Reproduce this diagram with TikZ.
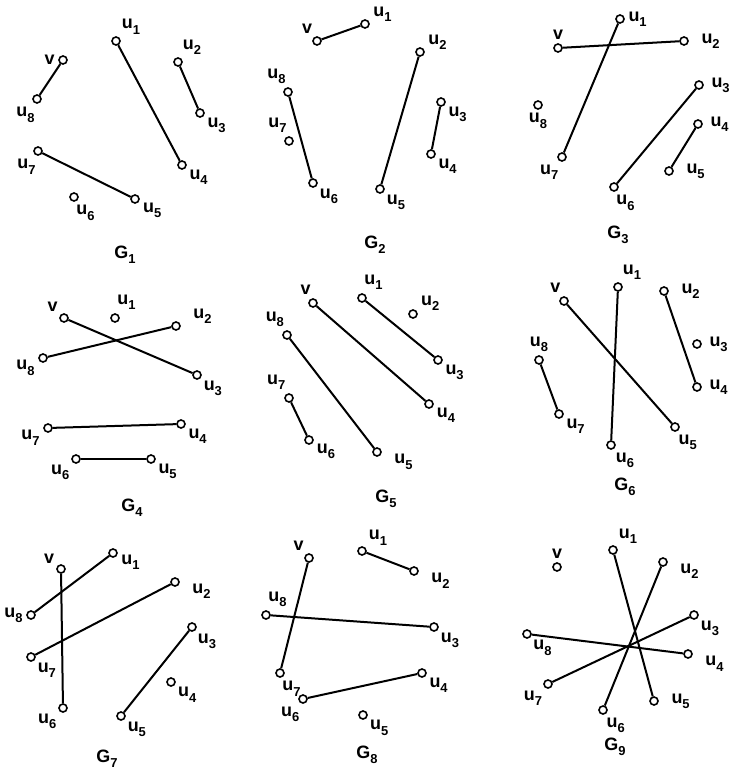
\documentclass[tikz,border=0pt]{standalone}
\usepackage{fontspec}
\setmainfont{Liberation Sans}
\usetikzlibrary{positioning}
\newcommand\sub[1]{\raisebox{-0.55ex}{\fontsize{13}{13}\selectfont #1}}
\newcommand\ul[1]{u\sub{#1}}
\newcommand\fu[1]{\hspace{9bp}u\sub{#1}}
\newcommand\su[1]{\hspace{4bp}u\sub{#1}}

\begin{document}
\begin{tikzpicture}[x=1bp,y=-1bp,
   vtx/.style={circle,draw=black,fill=white,line width=1.6bp,minimum size=8bp,inner sep=0pt},
   lbl/.style={font=\fontsize{18}{20}\selectfont\bfseries,label distance=2.5bp,inner sep=1bp},
   edge/.style={line width=2bp,draw=black},
   gcap/.style={font=\fontsize{18}{20}\selectfont\bfseries,inner sep=0pt}]
  \useasboundingbox (0,0) rectangle (733,771);

  % G1
  \foreach \n/\x/\y/\a/\t in {v/63/60/180/v,u1/116/41/50/\ul1,u2/178/62/60/\ul2,
      u3/200/113/-30/\ul3,u4/182/165/-30/\ul4,u5/135/199/-20/\ul5,
      u6/74/197/-80/\ul6,u7/38/151/-100/\ul7,u8/37/99/-100/\ul8}
    \node[vtx,label={[lbl]\a:\t}] (g1\n) at (\x,\y) {};
  \draw[edge] (g1v) -- (g1u8); \draw[edge] (g1u1) -- (g1u4);
  \draw[edge] (g1u2) -- (g1u3); \draw[edge] (g1u7) -- (g1u5);
  \node[gcap] (c1) at (125,255) {G\sub1};

  % G2
  \foreach \n/\x/\y/\a/\t in {v/317/41/120/v,u1/365/24/10/\ul1,u2/420/52/10/\ul2,
      u3/441/102/-30/\ul3,u4/431/154/-30/\ul4,u5/380/189/-40/\ul5,
      u6/313/183/-40/\ul6,u7/289/141/100/\ul7,u8/288/92/100/\ul8}
    \node[vtx,label={[lbl]\a:\t}] (g2\n) at (\x,\y) {};
  \draw[edge] (g2v) -- (g2u1); \draw[edge] (g2u8) -- (g2u6);
  \draw[edge] (g2u2) -- (g2u5); \draw[edge] (g2u3) -- (g2u4);
  \node[gcap] (c2) at (375,245) {G\sub2};

  % G3
  \foreach \n/\x/\y/\a/\t in {v/558/48/90/v,u1/620/19/0/\ul1,u2/684/41/0/\fu2,
      u3/699/85/0/\su3,u4/698/124/0/\su4,u5/669/171/0/\fu5,
      u6/614/187/-80/\ul6,u7/562/157/-110/\ul7,u8/538/105/-90/\ul8}
    \node[vtx,label={[lbl]\a:\t}] (g3\n) at (\x,\y) {};
  \draw[edge] (g3v) -- (g3u2); \draw[edge] (g3u1) -- (g3u7);
  \draw[edge] (g3u3) -- (g3u6); \draw[edge] (g3u4) -- (g3u5);
  \node[gcap] (c3) at (618,235) {G\sub3};

  % G4
  \foreach \n/\x/\y/\a/\t in {v/64/318/135/v,u1/115/318/80/\ul1,u2/176/326/10/\fu2,
      u3/197/375/-40/\ul3,u4/181/424/-30/\ul4,u5/151/459/-30/\ul5,
      u6/76/459/-140/\ul6,u7/48/428/190/\ul7,u8/43/358/190/\ul8}
    \node[vtx,label={[lbl]\a:\t}] (g4\n) at (\x,\y) {};
  \draw[edge] (g4v) -- (g4u3); \draw[edge] (g4u8) -- (g4u2);
  \draw[edge] (g4u7) -- (g4u4); \draw[edge] (g4u6) -- (g4u5);
  \node[gcap] (c4) at (132,508) {G\sub4};

  % G5
  \foreach \n/\x/\y/\a/\t in {v/313/303/100/v,u1/362/298/80/\ul1,u2/413/314/20/\ul2,
      u3/438/360/-30/\ul3,u4/429/404/-25/\ul4,u5/377/452/-10/\fu5,
      u6/309/440/-25/\ul6,u7/289/398/110/\ul7,u8/287/335/105/\ul8}
    \node[vtx,label={[lbl]\a:\t}] (g5\n) at (\x,\y) {};
  \draw[edge] (g5v) -- (g5u4); \draw[edge] (g5u1) -- (g5u3);
  \draw[edge] (g5u8) -- (g5u5); \draw[edge] (g5u7) -- (g5u6);
  \node[gcap] (c5) at (386,499) {G\sub5};

  % G6
  \foreach \n/\x/\y/\a/\t in {v/564/301/110/v,u1/618/287/60/\ul1,u2/664/291/0/\fu2,
      u3/697/344/0/\su3,u4/697/387/0/\su4,u5/675/427/-70/\ul5,
      u6/611/445/-60/\ul6,u7/559/414/-30/\ul7,u8/539/360/90/\ul8}
    \node[vtx,label={[lbl]\a:\t}] (g6\n) at (\x,\y) {};
  \draw[edge] (g6u1) -- (g6u6); \draw[edge] (g6v) -- (g6u5);
  \draw[edge] (g6u2) -- (g6u4); \draw[edge] (g6u8) -- (g6u7);
  \node[gcap] (c6) at (625,487) {G\sub6};

  % G7
  \foreach \n/\x/\y/\a/\t in {v/61/569/140/v,u1/113/553/-5/\ul1,u2/175/582/-5/\fu2,
      u3/192/627/-50/\ul3,u4/171/682/-35/\ul4,u5/121/716/-40/\ul5,
      u6/63/708/-140/\ul6,u7/31/657/-40/\ul7,u8/31/615/180/\ul8}
    \node[vtx,label={[lbl]\a:\t}] (g7\n) at (\x,\y) {};
  \draw[edge] (g7v) -- (g7u6); \draw[edge] (g7u8) -- (g7u1);
  \draw[edge] (g7u7) -- (g7u2); \draw[edge] (g7u3) -- (g7u5);
  \node[gcap] (c7) at (107,759) {G\sub7};

  % G8
  \foreach \n/\x/\y/\a/\t in {v/309/558/125/v,u1/362/551/40/\ul1,u2/414/571/-10/\fu2,
      u3/434/627/-40/\ul3,u4/422/673/-30/\ul4,u5/363/715/-35/\ul5,
      u6/303/699/-110/\ul6,u7/280/673/-80/\ul7,u8/266/615/80/\ul8}
    \node[vtx,label={[lbl]\a:\t}] (g8\n) at (\x,\y) {};
  \draw[edge] (g8v) -- (g8u7); \draw[edge] (g8u1) -- (g8u2);
  \draw[edge] (g8u8) -- (g8u3); \draw[edge] (g8u6) -- (g8u4);
  \node[gcap] (c8) at (367,755) {G\sub8};

  % G9
  \foreach \n/\x/\y/\a/\t in {v/557/567/90/v,u1/613/550/50/\ul1,u2/663/562/-5/\fu2,
      u3/694/615/-40/\ul3,u4/688/654/-10/\fu4,u5/654/701/0/\fu5,
      u6/603/710/-70/\ul6,u7/548/684/-130/\ul7,u8/527/634/-45/\ul8}
    \node[vtx,label={[lbl]\a:\t}] (g9\n) at (\x,\y) {};
  \draw[edge] (g9u1) -- (g9u5); \draw[edge] (g9u2) -- (g9u6);
  \draw[edge] (g9u8) -- (g9u4); \draw[edge] (g9u7) -- (g9u3);
  \node[gcap] (c9) at (615,747) {G\sub9};
\end{tikzpicture}
\end{document}
